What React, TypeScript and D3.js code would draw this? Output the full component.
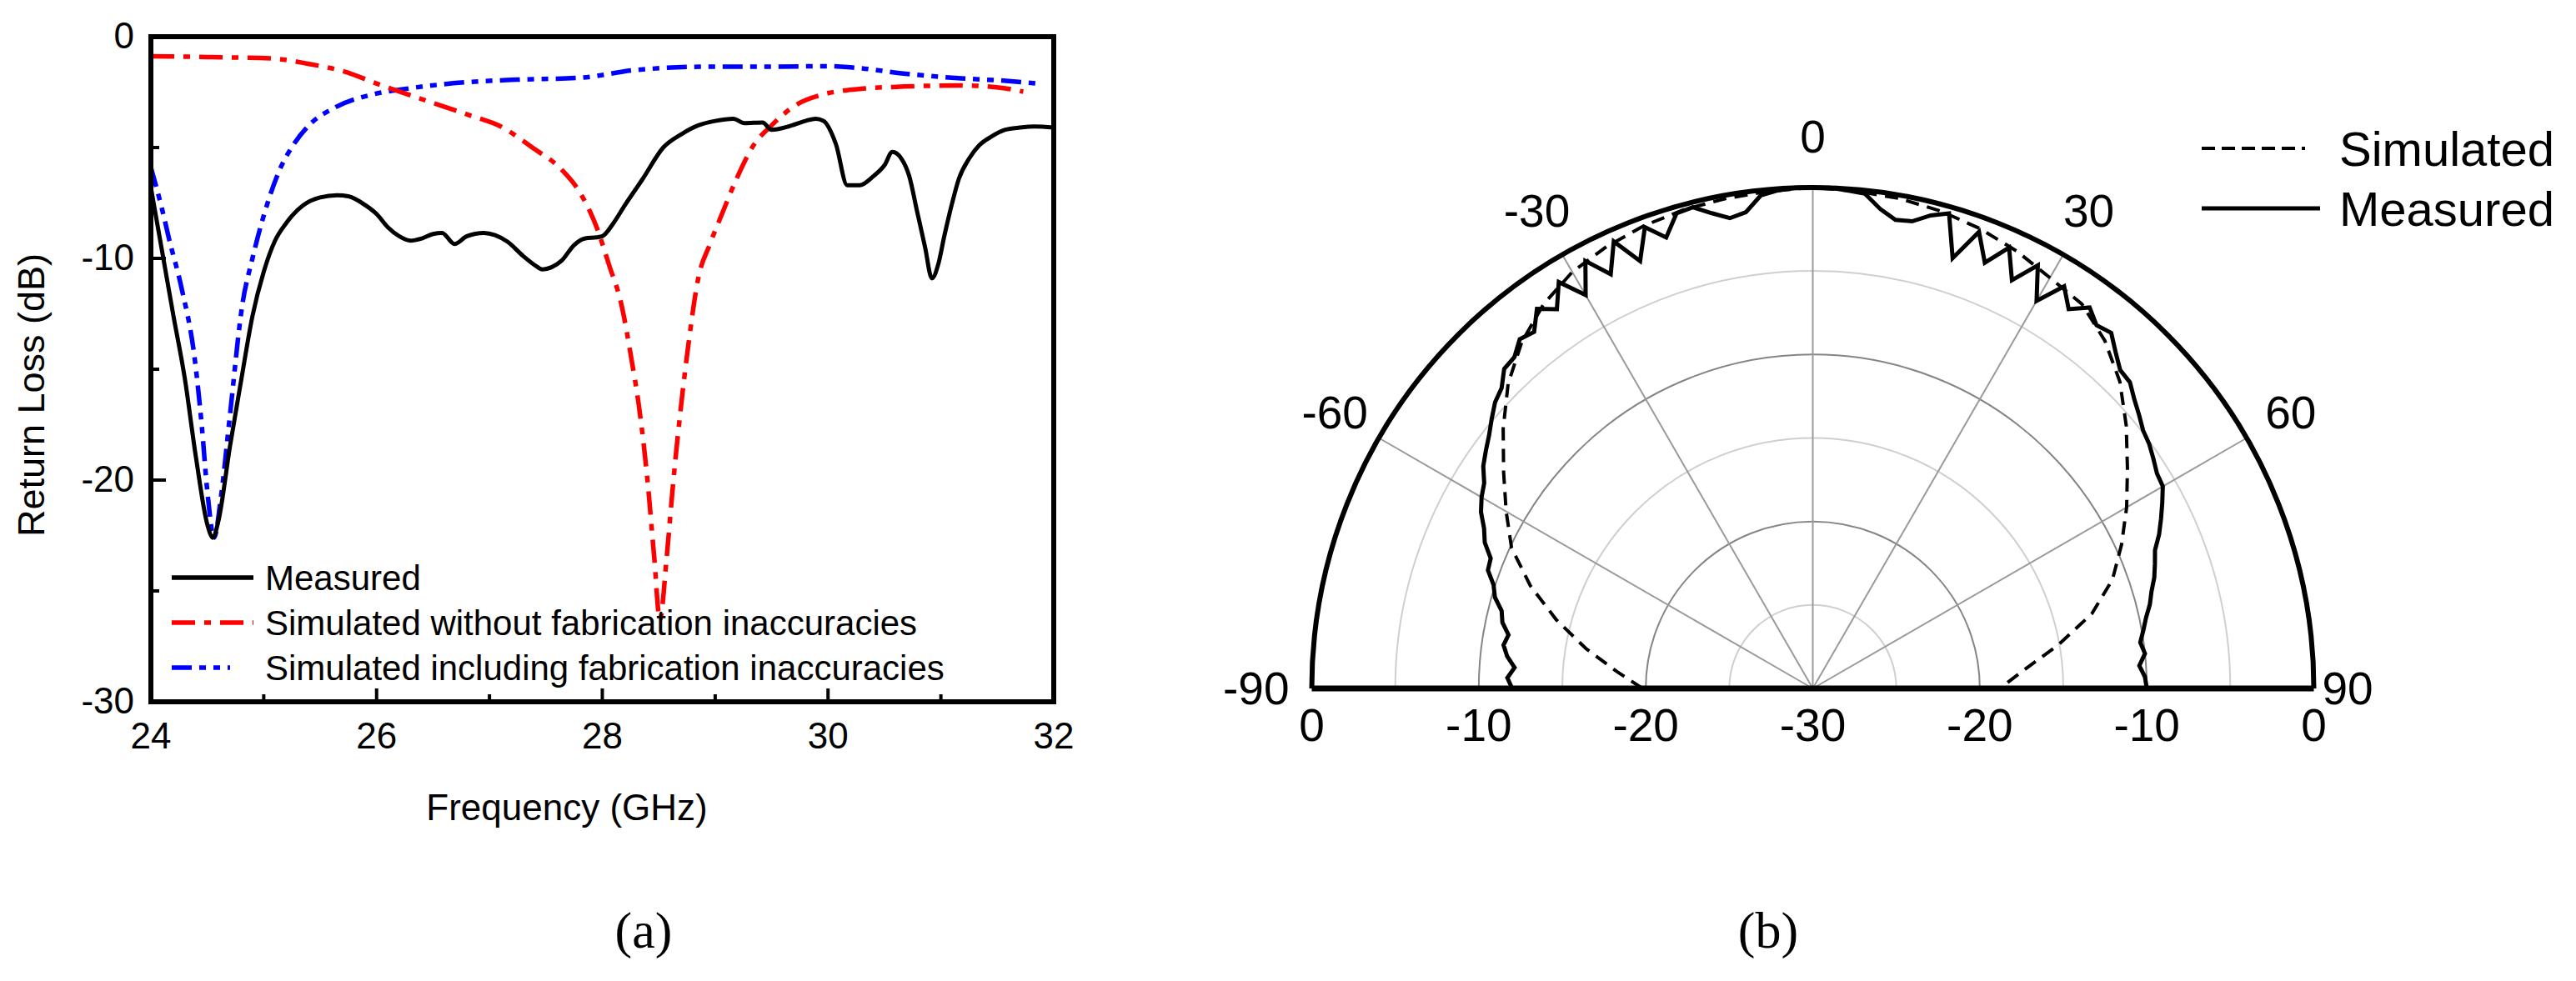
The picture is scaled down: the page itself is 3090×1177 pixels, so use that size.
import React from "react";
import * as d3 from "d3";

// ---------- (a) Return loss data ----------
const measFreq = [24.0, 24.1, 24.2, 24.3, 24.4, 24.5, 24.55, 24.6, 24.7, 24.8, 24.9, 25.0, 25.1, 25.2, 25.35, 25.5, 25.65, 25.75, 25.9, 26.0, 26.1, 26.2, 26.3, 26.4, 26.5, 26.58, 26.69, 26.8, 26.95, 27.05, 27.16, 27.3, 27.4, 27.47, 27.55, 27.64, 27.75, 27.85, 27.95, 28.0, 28.1, 28.2, 28.36, 28.54, 28.7, 28.85, 29.0, 29.16, 29.26, 29.42, 29.5, 29.65, 29.8, 29.89, 29.96, 30.07, 30.17, 30.28, 30.4, 30.5, 30.57, 30.65, 30.72, 30.79, 30.86, 30.92, 30.98, 31.03, 31.1, 31.16, 31.25, 31.34, 31.45, 31.57, 31.7, 31.83, 32.0];
const measDb = [-6.8, -9.7, -12.6, -15.4, -19.0, -22.0, -22.6, -21.8, -18.5, -15.5, -12.6, -10.6, -9.2, -8.4, -7.6, -7.25, -7.15, -7.2, -7.6, -8.0, -8.6, -9.0, -9.2, -9.1, -8.9, -8.85, -9.35, -9.0, -8.85, -8.95, -9.25, -9.9, -10.3, -10.5, -10.4, -10.1, -9.4, -9.1, -9.05, -9.0, -8.4, -7.6, -6.4, -5.0, -4.4, -4.0, -3.8, -3.7, -3.9, -3.87, -4.2, -4.05, -3.8, -3.7, -3.8, -4.85, -6.7, -6.7, -6.3, -5.8, -5.2, -5.5, -6.3, -7.9, -9.5, -10.9, -10.2, -9.0, -7.5, -6.4, -5.5, -4.9, -4.5, -4.2, -4.1, -4.05, -4.1];

const simNoFabFreq = [24.0, 24.5, 25.06, 25.4, 25.69, 26.03, 26.39, 26.82, 27.1, 27.38, 27.64, 27.81, 27.95, 28.06, 28.17, 28.26, 28.32, 28.4, 28.46, 28.51, 28.57, 28.63, 28.69, 28.76, 28.85, 28.95, 29.06, 29.19, 29.34, 29.5, 29.71, 29.96, 30.28, 30.67, 31.18, 31.57, 31.73];
const simNoFabDb = [-0.88, -0.92, -0.98, -1.23, -1.54, -2.17, -2.8, -3.54, -4.05, -5.0, -6.0, -7.1, -8.6, -10.3, -12.1, -14.6, -16.5, -20.0, -23.5, -26.3, -23.5, -20.0, -17.0, -14.0, -10.9, -9.4, -8.0, -6.4, -4.9, -4.0, -3.1, -2.6, -2.36, -2.25, -2.2, -2.33, -2.48];

const simFabFreq = [24.0, 24.1, 24.16, 24.27, 24.39, 24.45, 24.5, 24.56, 24.62, 24.7, 24.81, 24.9, 25.01, 25.15, 25.26, 25.4, 25.63, 25.97, 26.25, 26.68, 27.24, 27.81, 28.3, 28.98, 29.5, 30.02, 30.28, 30.67, 31.18, 31.6, 31.9];
const simFabDb = [-5.9, -7.8, -9.1, -11.3, -14.6, -17.5, -20.5, -22.6, -20.8, -17.1, -12.1, -10.0, -7.9, -5.9, -4.9, -4.0, -3.2, -2.6, -2.36, -2.1, -1.94, -1.85, -1.5, -1.35, -1.35, -1.33, -1.42, -1.66, -1.88, -2.0, -2.14];

const xTicksA = [24, 26, 28, 30, 32];
const xMinorA = [25, 27, 29, 31];
const yTicksA = [0, -10, -20, -30];
const yMinorA = [-5, -15, -25];
const legendA = ["Measured", "Simulated without fabrication inaccuracies", "Simulated including fabrication inaccuracies"];

// ---------- (b) Radiation pattern data ----------
const simAngles = [-90, -85, -80, -75, -70, -65, -60, -55, -50, -45, -40, -35, -30, -25, -20, -15, -10, -5, 0, 5, 10, 15, 20, 25, 30, 35, 40, 45, 50, 55, 60, 65, 70, 75, 80, 85, 90];
const simPattern = [-19.8, -18.2, -16.2, -14.1, -12.0, -10.1, -8.8, -7.4, -5.8, -4.2, -2.9, -1.9, -1.2, -0.8, -0.5, -0.3, -0.2, -0.1, 0, -0.1, -0.2, -0.4, -0.7, -1.1, -1.6, -1.9, -2.8, -4.0, -5.5, -7.0, -8.3, -9.6, -10.9, -12.7, -15.1, -17.3, -18.8];

const measAngles = [-90, -88, -86, -84, -82, -80, -78, -76, -74, -72, -70, -68, -66, -64, -62, -60, -58, -56, -54, -52, -50, -48, -46, -44, -42, -40, -38, -36, -34, -32, -30, -28, -26, -24, -22, -20, -18, -16, -14, -12, -10, -8, -6, -4, -2, 0, 2, 4, 6, 8, 10, 12, 14, 16, 18, 20, 22, 24, 26, 28, 30, 32, 34, 36, 38, 40, 42, 44, 46, 48, 50, 52, 54, 56, 58, 60, 62, 64, 66, 68, 70, 72, 74, 76, 78, 80, 82, 84, 86, 88, 90];
const measPattern = [-12.0, -11.7, -12.1, -11.6, -11.3, -11.5, -11.0, -10.8, -10.2, -9.9, -9.3, -9.2, -8.5, -8.1, -7.5, -7.1, -6.8, -6.2, -5.8, -5.4, -4.9, -4.4, -4.1, -3.4, -3.3, -2.7, -2.9, -1.9, -2.6, -1.3, -2.8, -1.0, -2.4, -0.7, -2.4, -0.6, -1.6, -0.4, -0.3, -0.9, -1.4, -1.2, -0.3, -0.1, 0, 0, 0, -0.1, -0.2, -1.0, -1.5, -1.4, -0.8, -0.4, -2.9, -0.9, -2.5, -1.1, -2.8, -1.3, -3.2, -1.6, -2.6, -1.8, -2.4, -2.2, -2.9, -3.5, -3.6, -4.1, -4.5, -4.9, -5.1, -5.4, -5.7, -5.8, -6.3, -6.8, -7.3, -7.9, -8.2, -8.5, -8.9, -9.2, -9.6, -9.9, -10.2, -10.0, -10.4, -10.1, -10.0];

const ringsMinor = [-5, -15, -25];
const ringsMajor = [-10, -20];
const spokeAngles = [-60, -30, 0, 30, 60];
const angleLabels = [-60, -30, 0, 30, 60];
const radialLabels = [0, -10, -20, -30];
const legendB = ["Simulated", "Measured"];

const SANS = "'Liberation Sans', Arial, sans-serif";

export default function App() {
  // ----- (a) scales -----
  const x = d3.scaleLinear().domain([24, 32]).range([181, 1264]);
  const y = d3.scaleLinear().domain([0, -30]).range([44, 842]);
  const lineA = (fs: number[], vs: number[]) =>
    d3.line<number>().x((_, i) => x(fs[i])).y((_, i) => y(vs[i])).curve(d3.curveMonotoneX)(fs) || "";

  // ----- (b) scales -----
  const cx = 2174.5, cy = 826;
  const r = d3.scaleLinear().domain([-30, 0]).range([0, 601]);
  const rad = (deg: number) => (deg * Math.PI) / 180;
  const radial = (as: number[], vs: number[]) =>
    d3.lineRadial<number>().angle((_, i) => rad(as[i])).radius((_, i) => r(vs[i])).curve(d3.curveLinear)(as) || "";
  const ring = (v: number) => d3.arc()({ innerRadius: r(v), outerRadius: r(v), startAngle: -Math.PI / 2, endAngle: Math.PI / 2 }) || "";

  const redDash = "28 11 8 11";
  const blueDash = "24 9 8 9 8 9";

  return (
    <svg width={3090} height={1177} style={{ position: "absolute", left: 0, top: 0, background: "#fff" }} fontFamily={SANS}>
      <rect width={3090} height={1177} fill="#fff" />
      {/* ================= (a) ================= */}
      <g>
        {xTicksA.map((t) => (
          <line key={"xt" + t} x1={x(t)} x2={x(t)} y1={y(-30)} y2={y(-30) - 16} stroke="#000" strokeWidth={4} />
        ))}
        {xMinorA.map((t) => (
          <line key={"xm" + t} x1={x(t)} x2={x(t)} y1={y(-30)} y2={y(-30) - 9} stroke="#000" strokeWidth={4} />
        ))}
        {yTicksA.map((t) => (
          <line key={"yt" + t} x1={x(24)} x2={x(24) + 18} y1={y(t)} y2={y(t)} stroke="#000" strokeWidth={4} />
        ))}
        {yMinorA.map((t) => (
          <line key={"ym" + t} x1={x(24)} x2={x(24) + 10} y1={y(t)} y2={y(t)} stroke="#000" strokeWidth={4} />
        ))}
        <path d={lineA(simFabFreq, simFabDb)} fill="none" stroke="#0000ff" strokeWidth={5.5} strokeDasharray={blueDash} />
        <path d={lineA(simNoFabFreq, simNoFabDb)} fill="none" stroke="#ff0000" strokeWidth={5.5} strokeDasharray={redDash} />
        <path d={lineA(measFreq, measDb)} fill="none" stroke="#000" strokeWidth={5} />
        <rect x={x(24)} y={y(0)} width={x(32) - x(24)} height={y(-30) - y(0)} fill="none" stroke="#000" strokeWidth={6} />
        {xTicksA.map((t) => (
          <text key={"xl" + t} x={x(t)} y={882} fontSize={44} textAnchor="middle" dominantBaseline="central">{t}</text>
        ))}
        {yTicksA.map((t) => (
          <text key={"yl" + t} x={161} y={y(t) - 2} fontSize={44} textAnchor="end" dominantBaseline="central">{t}</text>
        ))}
        <text x={680} y={968} fontSize={44} textAnchor="middle" dominantBaseline="central">Frequency (GHz)</text>
        <text transform="translate(37,474) rotate(-90)" fontSize={45} textAnchor="middle" dominantBaseline="central">Return Loss (dB)</text>
        {legendA.map((t, i) => {
          const ly = 693 + i * 54;
          const stroke = i === 0 ? "#000" : i === 1 ? "#ff0000" : "#0000ff";
          const dash = i === 0 ? undefined : i === 1 ? redDash : blueDash;
          return (
            <g key={"lg" + i}>
              <line x1={206} x2={i === 2 ? 276 : 304} y1={ly} y2={ly} stroke={stroke} strokeWidth={5.5} strokeDasharray={dash} />
              <text x={318} y={ly} fontSize={42} dominantBaseline="central">{t}</text>
            </g>
          );
        })}
      </g>

      {/* ================= (b) ================= */}
      <g transform={`translate(${cx},${cy})`}>
        {ringsMinor.map((v) => (
          <path key={"rm" + v} d={ring(v)} fill="none" stroke="#cfcfcf" strokeWidth={2} />
        ))}
        {ringsMajor.map((v) => (
          <path key={"rM" + v} d={ring(v)} fill="none" stroke="#858585" strokeWidth={2} />
        ))}
        {spokeAngles.map((a) => (
          <line key={"sp" + a} x1={0} y1={0} x2={r(0) * Math.sin(rad(a))} y2={-r(0) * Math.cos(rad(a))} stroke="#9a9a9a" strokeWidth={2} />
        ))}
        <path d={radial(simAngles, simPattern)} fill="none" stroke="#000" strokeWidth={4} strokeDasharray="16 10" />
        <path d={radial(measAngles, measPattern)} fill="none" stroke="#000" strokeWidth={5} />
        <path d={ring(0)} fill="none" stroke="#000" strokeWidth={6} />
        <line x1={-r(0)} x2={r(0)} y1={0} y2={0} stroke="#000" strokeWidth={7} />
        {angleLabels.map((a) => (
          <text key={"al" + a} x={662 * Math.sin(rad(a))} y={-662 * Math.cos(rad(a))} fontSize={55} textAnchor="middle" dominantBaseline="central">{a}</text>
        ))}
        <text x={-r(0) - 27} y={0} fontSize={55} textAnchor="end" dominantBaseline="central">-90</text>
        <text x={r(0) + 10} y={0} fontSize={55} textAnchor="start" dominantBaseline="central">90</text>
        {radialLabels.map((v) => (
          <text key={"rl" + v} x={-r(v)} y={44} fontSize={55} textAnchor="middle" dominantBaseline="central">{v}</text>
        ))}
        {radialLabels.filter((v) => v !== -30).map((v) => (
          <text key={"rr" + v} x={r(v)} y={44} fontSize={55} textAnchor="middle" dominantBaseline="central">{v}</text>
        ))}
      </g>
      {legendB.map((t, i) => {
        const ly = 178 + i * 72;
        return (
          <g key={"lb" + i}>
            <line x1={2641} x2={i === 0 ? 2765 : 2783} y1={ly} y2={ly} stroke="#000" strokeWidth={i === 0 ? 4 : 5} strokeDasharray={i === 0 ? "16 8" : undefined} />
            <text x={2806} y={ly} fontSize={58} dominantBaseline="central">{t}</text>
          </g>
        );
      })}

      <text x={772} y={1116} fontSize={62} fontFamily="'Liberation Serif', 'Times New Roman', serif" textAnchor="middle" dominantBaseline="central">(a)</text>
      <text x={2121} y={1116} fontSize={62} fontFamily="'Liberation Serif', 'Times New Roman', serif" textAnchor="middle" dominantBaseline="central">(b)</text>
    </svg>
  );
}
